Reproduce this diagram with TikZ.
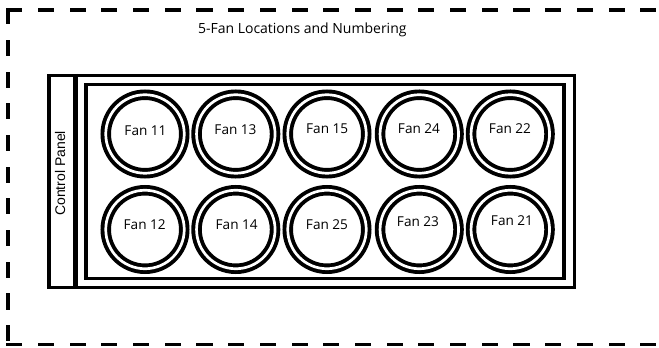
\documentclass[tikz,border=0pt]{standalone}
\usepackage{fontspec}
\setmainfont{Open Sans}
\newfontfamily\panelfont{Liberation Sans}
\usetikzlibrary{positioning}

\begin{document}
\begin{tikzpicture}[x=1pt,y=1pt,
  frame/.style={draw,line width=3.3pt,inner sep=0pt,rectangle},
  divider/.style={line width=5pt},
  border/.style={line width=3.6pt,line cap=rect,dash pattern=on 12.5pt off 19.2pt},
  fan/.style={circle,draw,double,line width=3.9pt,double distance=2.7pt,
    minimum size=78.5pt,inner sep=0pt},
  fanlbl/.style={anchor=base,font=\fontsize{13.6}{15}\selectfont},
  ttl/.style={anchor=base,font=\fontsize{14}{16}\selectfont}]
\useasboundingbox (0,0) rectangle (659,348);
% dashed outline, open to the right
\coordinate (tl) at (8,338);
\coordinate (bl) at (8,3.3);
\coordinate (tr) at (665,338);
\coordinate (br) at (665,3.3);
\draw[border] (tl) -- (tr);
\draw[border] (tl) -- (bl);
\draw[border] (bl) -- (br);
\node[ttl] (title) at (302.3,314.7) {5-Fan Locations and Numbering};
% enclosure
\node[frame,minimum width=525.5pt,minimum height=212.2pt] (box) at (311.75,166.4) {};
\draw[divider] ([xshift=28.5pt]box.north west) -- ([xshift=28.5pt]box.south west);
\node[rotate=90,anchor=base,inner sep=0pt,font=\panelfont\fontsize{14}{16}\selectfont]
  (cp) at (65,174.7) {Control Panel};
\node[frame,minimum width=478pt,minimum height=193.8pt] (tray) at (325,166.6) {};
% fans, top row
\node[fan] (f11) at (145,214) {};
\node[fan] (f13) at (235.8,214) {};
\node[fan] (f15) at (327,214) {};
\node[fan] (f24) at (419.3,214) {};
\node[fan] (f22) at (510.3,214) {};
% fans, bottom row
\node[fan] (f12) at (145,118.5) {};
\node[fan] (f14) at (235.8,118.5) {};
\node[fan] (f25) at (327,118.5) {};
\node[fan] (f23) at (419.3,118.5) {};
\node[fan] (f21) at (510.3,118.5) {};
\node[fanlbl] (l11) at (145.5,212) {Fan 11};
\node[fanlbl] (l13) at (235.5,213.2) {Fan 13};
\node[fanlbl] (l15) at (327.2,214.7) {Fan 15};
\node[fanlbl] (l24) at (419,214.2) {Fan 24};
\node[fanlbl] (l22) at (510,214.2) {Fan 22};
\node[fanlbl] (l12) at (144.7,118.5) {Fan 12};
\node[fanlbl] (l14) at (236.7,118.5) {Fan 14};
\node[fanlbl] (l25) at (327,118.7) {Fan 25};
\node[fanlbl] (l23) at (418,121.8) {Fan 23};
\node[fanlbl] (l21) at (512,122.5) {Fan 21};
\end{tikzpicture}
\end{document}
